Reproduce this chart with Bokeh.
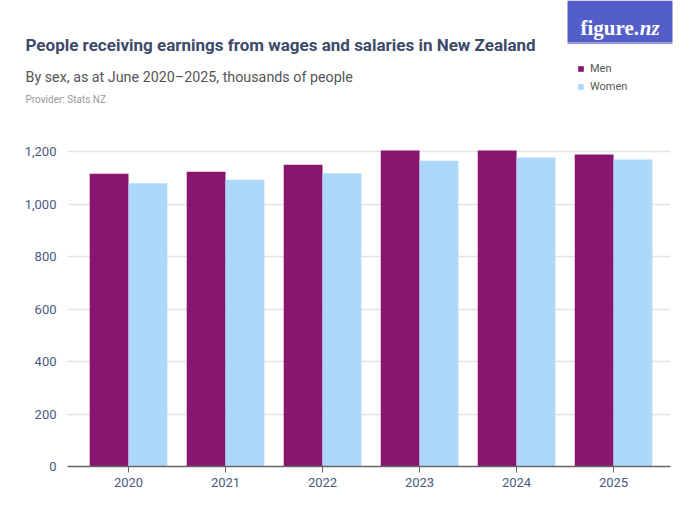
from bokeh.plotting import figure
from bokeh.layouts import column
from bokeh.models import (ColumnDataSource, Range1d, FixedTicker, NumeralTickFormatter,
                          PrintfTickFormatter, Label, Legend, LegendItem)
from bokeh.transform import dodge
from bokeh.embed import file_html
from bokeh.resources import INLINE

years = [2020, 2021, 2022, 2023, 2024, 2025]
men = [1115, 1123, 1150, 1204, 1204, 1189]
women = [1079, 1092, 1117, 1165, 1177, 1170]
y_ticks = [0, 200, 400, 600, 800, 1000, 1200]
series_names = ["Men", "Women"]
series_colors = ["#88166E", "#AED8FB"]

FONT = "Roboto"
TXT = "#3d4a6b"
FL, FR = 67, 670  # main frame left / right in canvas px

# ---------- header (title, subtitle, logo, legend) ----------
HEAD_H = 130
head = figure(width=700, height=HEAD_H, output_backend="svg", toolbar_location=None,
              x_range=Range1d(0, 700), y_range=Range1d(HEAD_H, 0),
              min_border=0, x_axis_type=None, y_axis_type=None, frame_align=False)
head.outline_line_color = None
head.grid.visible = False


def lab(text, x, y, size, color, style="normal", align="left", baseline="alphabetic", font=FONT):
    head.add_layout(Label(x=x, y=y, text=text, text_font=font, text_font_size=size,
                          text_color=color, text_font_style=style, text_align=align,
                          text_baseline=baseline))


lab("People receiving earnings from wages and salaries in New Zealand", 25, 44, "17px", TXT, style="bold")
lab("By sex, as at June 2020\u20132025, thousands of people", 25, 76, "14.3px", "#555555")
lab("Provider: Stats NZ", 25, 99, "10px", "#999999")

# logo box
head.quad(left=[567], right=[672], top=[0], bottom=[42], fill_color="#535ec8", line_color=None)
head.quad(left=[567], right=[672], top=[42], bottom=[43.5], fill_color="#8c93dc", line_color=None)
lab("figure", 580, 27, "21px", "white", style="bold", font="Liberation Serif")
lab(".nz", 634, 27, "21px", "white", style="bold italic", font="Liberation Serif")

# legend swatches (dummy renderers, placed off-view, used only for the legend glyphs)
leg_items = []
for name, col in zip(series_names, series_colors):
    r = head.vbar(x=[-1000], top=[-1000], width=1, fill_color=col, line_color=None)
    leg_items.append(LegendItem(label=name, renderers=[r]))
legend = Legend(items=leg_items, location=(577, HEAD_H - 93), orientation="vertical",
                glyph_width=7, glyph_height=7, label_text_font=FONT,
                label_text_font_size="11px", label_text_color="#555555",
                spacing=5, padding=0, margin=0, border_line_color=None,
                background_fill_alpha=0, label_standoff=6, label_height=13)
head.add_layout(legend, "center")

# ---------- main chart ----------
src = ColumnDataSource(dict(year=years, men=men, women=women))

p = figure(width=700, height=525 - HEAD_H, output_backend="svg", toolbar_location=None,
           x_range=Range1d(2019.371, 2025.587), y_range=Range1d(0, 1280),
           min_border_left=FL, min_border_right=700 - FR, min_border_top=0, min_border_bottom=59,
           frame_align=False)
p.outline_line_color = None

p.vbar(x=dodge("year", -0.2), top="men", width=0.4, source=src,
       fill_color=series_colors[0], line_color=None)
p.vbar(x=dodge("year", 0.2), top="women", width=0.4, source=src,
       fill_color=series_colors[1], line_color=None)

p.xgrid.grid_line_color = None
p.ygrid.grid_line_color = "#e3e3e3"
p.ygrid.grid_line_width = 1.5
p.ygrid.ticker = FixedTicker(ticks=y_ticks)

p.yaxis.ticker = FixedTicker(ticks=y_ticks)
p.yaxis.formatter = NumeralTickFormatter(format="0,0")
p.yaxis.axis_line_color = None
p.yaxis.major_tick_line_color = None
p.yaxis.minor_tick_line_color = None
p.yaxis.major_label_standoff = 5
p.yaxis.major_label_text_font = FONT
p.yaxis.major_label_text_font_size = "13px"
p.yaxis.major_label_text_color = "#4b5a7e"

p.xaxis.ticker = FixedTicker(ticks=years)
p.xaxis.formatter = PrintfTickFormatter(format="%d")
p.xaxis.axis_line_color = "#666666"
p.xaxis.axis_line_width = 1.5
p.xaxis.major_tick_line_color = "#666666"
p.xaxis.major_tick_in = 0
p.xaxis.major_tick_out = 6
p.xaxis.minor_tick_line_color = None
p.xaxis.major_label_standoff = 5
p.xaxis.major_label_text_font = FONT
p.xaxis.major_label_text_font_size = "13px"
p.xaxis.major_label_text_color = "#4b5a7e"

layout = column(head, p, spacing=0)
open("out.html", "w").write(file_html(layout, INLINE))
